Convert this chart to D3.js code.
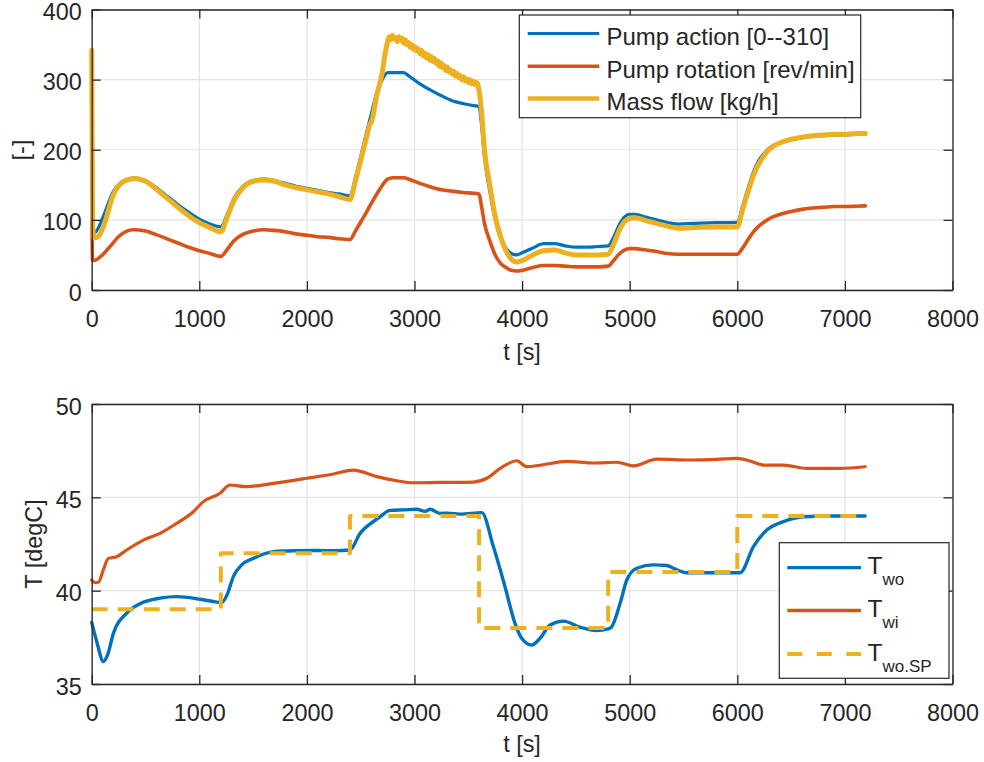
<!DOCTYPE html>
<html>
<head>
<meta charset="utf-8">
<script src="https://cdn.jsdelivr.net/npm/d3@7"></script>
<style>
  html, body { margin: 0; padding: 0; background: #fff; }
  svg { display: block; }
  text { font-family: "Liberation Sans", Arial, Helvetica, sans-serif; fill: #262626; }
</style>
</head>
<body>
<svg id="fig" width="984" height="762"></svg>
<script>
// ---- Pump signals (upper panel) ----
const pumpActionT = [0, 15, 60, 108, 200, 300, 400, 500, 600, 700, 800, 900, 1000, 1100, 1200, 1260, 1320, 1400, 1500, 1600, 1700, 1800, 1900, 2000, 2100, 2200, 2300, 2400, 2450, 2500, 2550, 2600, 2650, 2700, 2750, 2900, 2950, 3050, 3150, 3250, 3350, 3450, 3550, 3600, 3620, 3650, 3700, 3750, 3800, 3850, 3900, 3950, 4000, 4100, 4200, 4300, 4400, 4500, 4600, 4700, 4800, 4850, 4900, 4950, 5000, 5050, 5150, 5250, 5350, 5450, 5600, 5800, 6000, 6050, 6100, 6150, 6200, 6250, 6300, 6400, 6500, 6600, 6700, 6800, 6900, 7000, 7100, 7190];
const pumpActionV = [100, 80, 88, 105, 140, 156, 160, 156, 146, 134, 122, 111, 101, 94, 90, 108, 130, 147, 156, 158, 156, 152, 148, 145, 142, 139, 137, 134, 160, 190, 222, 252, 282, 300, 310, 310, 305, 294, 285, 277, 270, 266, 263, 262, 240, 190, 140, 100, 74, 60, 52, 50, 53, 60, 66, 66, 63, 61, 61, 62, 63, 75, 92, 104, 108, 108, 104, 100, 96, 94, 95, 96, 96.5, 120, 145, 168, 185, 195, 203, 210, 214, 217, 219, 220, 221, 221, 222, 222];

const pumpRotT = [0, 8, 40, 100, 170, 263, 387, 500, 600, 700, 800, 900, 1000, 1100, 1200, 1260, 1320, 1400, 1500, 1600, 1700, 1800, 1900, 2000, 2100, 2200, 2300, 2400, 2450, 2500, 2550, 2600, 2650, 2700, 2750, 2800, 2900, 2950, 3050, 3150, 3250, 3350, 3450, 3550, 3600, 3620, 3650, 3700, 3750, 3800, 3850, 3900, 3950, 4000, 4100, 4200, 4300, 4400, 4500, 4600, 4700, 4800, 4850, 4900, 4950, 5000, 5050, 5150, 5250, 5350, 5450, 5600, 5800, 6000, 6050, 6100, 6150, 6200, 6250, 6300, 6400, 6500, 6600, 6700, 6800, 6900, 7000, 7100, 7190];
const pumpRotV = [158, 42, 43, 50, 62, 78, 86, 84, 79, 73, 67, 61, 56, 52, 48, 58, 70, 79, 84, 86, 85, 83, 80, 78, 76, 75, 73, 72, 84, 97, 110, 124, 137, 149, 158, 160, 160, 158, 152, 147, 143, 141, 139, 138, 137, 122, 95, 70, 50, 38, 32, 28, 27, 28, 32, 35, 35, 34, 33, 33, 33, 34, 42, 51, 57, 59, 59, 57, 55, 52, 51, 51, 51, 51, 60, 72, 83, 91, 97, 102, 108, 112, 115, 117, 118, 119, 119, 119.5, 120];

// measured mass flow (noisy around the 300+ kg/h plateau)
const massFlowT = [0, 8, 20, 60, 108, 200, 300, 400, 500, 600, 700, 800, 900, 1000, 1100, 1200, 1260, 1320, 1400, 1500, 1600, 1700, 1800, 1900, 2000, 2100, 2200, 2300, 2400, 2450, 2500, 2550, 2587, 2600, 2650, 2700, 2730,
  2750, 2765, 2780, 2795, 2810, 2825, 2840, 2855, 2870, 2885, 2900, 2915, 2930, 2945, 2960, 2975, 2990, 3005, 3020, 3035, 3050, 3065, 3080, 3095, 3110, 3125, 3140, 3155, 3170, 3185, 3200, 3215, 3230, 3245, 3260, 3275, 3290, 3305, 3320, 3335, 3350, 3365, 3380, 3395, 3410, 3425, 3440, 3455, 3470, 3485, 3500, 3515, 3530, 3545, 3560, 3575, 3590,
  3620, 3650, 3700, 3750, 3800, 3850, 3900, 3950, 4000, 4100, 4200, 4300, 4400, 4500, 4600, 4700, 4800, 4850, 4900, 4950, 5000, 5050, 5150, 5250, 5350, 5450, 5600, 5800, 6000, 6050, 6100, 6150, 6200, 6250, 6300, 6400, 6500, 6600, 6700, 6800, 6900, 7000, 7100, 7190];
const massFlowV = [342, 100, 74, 76, 90, 135, 155, 159, 155, 144, 131, 118, 106, 96, 89, 83, 104, 127, 145, 155, 157, 155, 150, 146, 143, 140, 137, 133, 129, 155, 185, 215, 237, 240, 278, 310, 340,
  354, 361, 357, 363, 358, 360, 354, 361, 356, 359, 352, 357, 350, 353, 346, 350, 343, 347, 341, 344, 337, 342, 334, 338, 331, 336, 328, 333, 326, 330, 323, 327, 319, 324, 317, 320, 313, 318, 311, 314, 308, 312, 305, 309, 303, 306, 300, 304, 298, 301, 296, 300, 294, 298, 293, 296, 292,
  260, 200, 150, 105, 76, 56, 44, 40, 42, 50, 56, 57, 53, 50, 50, 50, 51, 65, 84, 97, 102, 103, 99, 95, 91, 88, 89, 90, 90, 115, 140, 163, 180, 192, 201, 210, 215, 218, 220, 221, 222, 222, 223, 223];

// ---- Water temperatures (lower panel) ----
const tWoT = [0, 50, 108, 150, 201, 325, 449, 635, 790, 1007, 1150, 1208, 1260, 1316, 1394, 1502, 1688, 1874, 2100, 2246, 2400, 2494, 2617, 2680, 2773, 2900, 3021, 3100, 3145, 3238, 3300, 3424, 3625, 3733, 3841, 3934, 3996, 4089, 4167, 4260, 4384, 4539, 4694, 4800, 4833, 4911, 4973, 5066, 5221, 5345, 5406, 5530, 5747, 6026, 6150, 6274, 6429, 6615, 6863, 7050, 7188];
const tWoV = [38.3, 37.2, 36.2, 36.6, 37.7, 38.8, 39.3, 39.6, 39.68, 39.54, 39.4, 39.36, 39.8, 40.75, 41.38, 41.73, 42.09, 42.14, 42.15, 42.14, 42.18, 43.07, 43.7, 43.96, 44.3, 44.33, 44.36, 44.25, 44.36, 44.14, 44.15, 44.1, 44.18, 42.36, 40.21, 38.25, 37.45, 37.09, 37.45, 38.16, 38.37, 38.04, 37.86, 37.95, 38.07, 39.32, 40.57, 41.2, 41.38, 41.35, 41.2, 40.96, 40.96, 40.96, 42.36, 43.25, 43.7, 43.96, 44.0, 44.0, 44.0];

const tWiT = [0, 30, 62, 108, 154, 232, 325, 480, 635, 790, 945, 1038, 1193, 1285, 1440, 1688, 1998, 2246, 2432, 2649, 2835, 2990, 3238, 3548, 3672, 3796, 3951, 4044, 4167, 4415, 4663, 4880, 5035, 5252, 5561, 5809, 5995, 6119, 6243, 6429, 6646, 6956, 7188];
const tWiV = [40.57, 40.43, 40.45, 41.11, 41.73, 41.82, 42.18, 42.71, 43.07, 43.61, 44.23, 44.77, 45.22, 45.66, 45.57, 45.75, 46.02, 46.25, 46.46, 46.11, 45.89, 45.78, 45.8, 45.82, 46.02, 46.55, 46.96, 46.64, 46.72, 46.93, 46.84, 46.88, 46.68, 47.05, 47.0, 47.03, 47.09, 46.95, 46.73, 46.73, 46.55, 46.55, 46.64];

// set-point schedule (step held until next time)
const spT = [0, 1200, 2400, 3600, 4800, 6000, 7190];
const spV = [39, 42, 44, 38, 41, 44, 44];

// ---- axes ----
const xTicks = [0, 1000, 2000, 3000, 4000, 5000, 6000, 7000, 8000];
const topYTicks = [0, 100, 200, 300, 400];
const botYTicks = [35, 40, 45, 50];

const topLegendLabels = ["Pump action [0--310]", "Pump rotation [rev/min]", "Mass flow [kg/h]"];
const botLegendMain = ["T", "T", "T"];
const botLegendSub = ["wo", "wi", "wo.SP"];

const BLUE = "#0072BD", ORANGE = "#D95319", YELLOW = "#EDB120";
const AXC = "#262626", GRID = "#e3e3e3";
const FS = 23.4;

const svg = d3.select("#fig");
svg.append("rect").attr("width", 984).attr("height", 762).attr("fill", "#fff");

const xScale = d3.scaleLinear().domain([0, 8000]).range([91.7, 952.5]);
const yTop = d3.scaleLinear().domain([0, 400]).range([290, 9.5]);
const yBot = d3.scaleLinear().domain([35, 50]).range([684, 404]);

function panel(y, yTicks) {
  const g = svg.append("g");
  const [x0, x1] = xScale.range();
  const [yb, yt] = y.range();
  g.append("g").selectAll("line").data(xTicks).join("line")
    .attr("x1", d => xScale(d)).attr("x2", d => xScale(d))
    .attr("y1", yt).attr("y2", yb)
    .attr("stroke", GRID).attr("stroke-width", 1.2);
  g.append("g").selectAll("line").data(yTicks).join("line")
    .attr("x1", x0).attr("x2", x1)
    .attr("y1", d => y(d)).attr("y2", d => y(d))
    .attr("stroke", GRID).attr("stroke-width", 1.2);
  return g;
}

function frame(y, yTicks) {
  const [x0, x1] = xScale.range();
  const [yb, yt] = y.range();
  const g = svg.append("g");
  const style = sel => {
    sel.selectAll("path.domain").attr("stroke", AXC).attr("stroke-width", 1.3);
    sel.selectAll(".tick line").attr("stroke", AXC).attr("stroke-width", 1.3);
    sel.selectAll(".tick text").attr("font-size", FS).attr("fill", AXC)
      .attr("font-family", "Liberation Sans, Arial, sans-serif");
  };
  g.append("g").attr("transform", `translate(0,${yb})`)
    .call(d3.axisBottom(xScale).tickValues(xTicks).tickSizeInner(-9).tickSizeOuter(0).tickPadding(20.5).tickFormat(d3.format("d")))
    .call(style);
  g.append("g").attr("transform", `translate(0,${yt})`)
    .call(d3.axisTop(xScale).tickValues(xTicks).tickSizeInner(-9).tickSizeOuter(0).tickFormat(""))
    .call(style);
  g.append("g").attr("transform", `translate(${x0},0)`)
    .call(d3.axisLeft(y).tickValues(yTicks).tickSizeInner(-9).tickSizeOuter(0).tickPadding(10).tickFormat(d3.format("d")))
    .call(style)
    .selectAll(".tick text").attr("dy", "0.43em");
  g.append("g").attr("transform", `translate(${x1},0)`)
    .call(d3.axisRight(y).tickValues(yTicks).tickSizeInner(-9).tickSizeOuter(0).tickFormat(""))
    .call(style);
  g.selectAll("text").style("fill", AXC);
  return g;
}

function series(y, T, V, color, width, curve, dash) {
  const pts = T.map((t, i) => [t, V[i]]);
  const line = d3.line().x(d => xScale(d[0])).y(d => y(d[1])).curve(curve || d3.curveMonotoneX);
  const p = svg.append("path").datum(pts).attr("d", line)
    .attr("fill", "none").attr("stroke", color).attr("stroke-width", width)
    .attr("stroke-linejoin", "round").attr("stroke-linecap", dash ? "butt" : "round");
  if (dash) p.attr("stroke-dasharray", dash);
  return p;
}

// ---------- upper panel ----------
panel(yTop, topYTicks);
series(yTop, pumpActionT, pumpActionV, BLUE, 3.2);
series(yTop, pumpRotT, pumpRotV, ORANGE, 3.6);
series(yTop, massFlowT, massFlowV, YELLOW, 5);
frame(yTop, topYTicks);

svg.append("text").attr("x", 522).attr("y", 360).attr("text-anchor", "middle")
  .attr("font-size", FS).text("t [s]");
svg.append("text").attr("transform", "translate(29,150) rotate(-90)").attr("text-anchor", "middle")
  .attr("font-size", FS).text("[-]");

// upper legend
{
  const g = svg.append("g");
  g.append("rect").attr("x", 519.3).attr("y", 15).attr("width", 341.4).attr("height", 102.7)
    .attr("fill", "#fff").attr("stroke", AXC).attr("stroke-width", 1.2);
  const cols = [BLUE, ORANGE, YELLOW];
  const widths = [3.2, 3.6, 4.5];
  const rows = [33.5, 66.3, 98.5];
  topLegendLabels.forEach((lab, i) => {
    g.append("line").attr("x1", 527.7).attr("x2", 599.3).attr("y1", rows[i]).attr("y2", rows[i])
      .attr("stroke", cols[i]).attr("stroke-width", widths[i]);
    g.append("text").attr("x", 606.5).attr("y", rows[i] + 11.5).attr("font-size", 24).text(lab);
  });
}

// ---------- lower panel ----------
panel(yBot, botYTicks);
series(yBot, tWoT, tWoV, BLUE, 3.4);
series(yBot, tWiT, tWiV, ORANGE, 3.2);
series(yBot, spT, spV, YELLOW, 4, d3.curveStepAfter, "16 10");
frame(yBot, botYTicks);

svg.append("text").attr("x", 522).attr("y", 752).attr("text-anchor", "middle")
  .attr("font-size", FS).text("t [s]");
svg.append("text").attr("transform", "translate(42,544) rotate(-90)").attr("text-anchor", "middle")
  .attr("font-size", FS).text("T [degC]");

// lower legend
{
  const g = svg.append("g");
  g.append("rect").attr("x", 779.3).attr("y", 542.7).attr("width", 169.7).attr("height", 135.6)
    .attr("fill", "#fff").attr("stroke", AXC).attr("stroke-width", 1.2);
  const cols = [BLUE, ORANGE, YELLOW];
  const dashes = [null, null, "15 14.5"];
  const rows = [567.7, 610.5, 654];
  botLegendMain.forEach((m, i) => {
    const ln = g.append("line").attr("x1", 787.3).attr("x2", 861).attr("y1", rows[i]).attr("y2", rows[i])
      .attr("stroke", cols[i]).attr("stroke-width", i === 2 ? 4 : 3.3);
    if (dashes[i]) ln.attr("stroke-dasharray", dashes[i]);
    const t = g.append("text").attr("x", 867.5).attr("y", rows[i] + 6.5).attr("font-size", 24.5);
    t.append("tspan").text(m);
    t.append("tspan").attr("font-size", 17).attr("dy", 11).text(botLegendSub[i]);
  });
}
</script>
</body>
</html>
